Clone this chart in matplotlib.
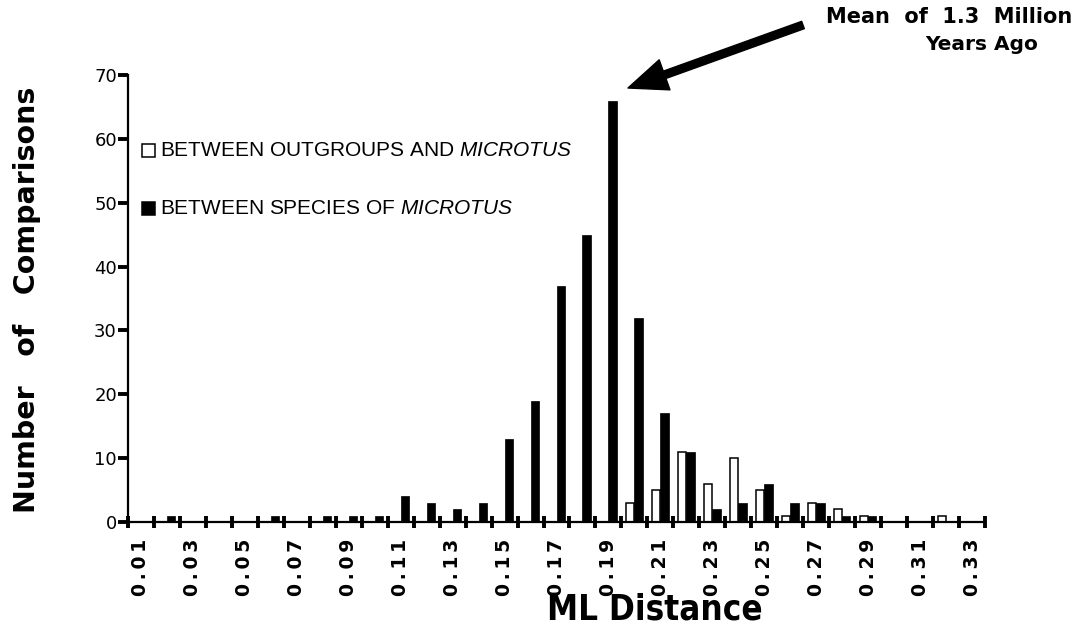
import matplotlib
matplotlib.use('Agg')
import matplotlib.pyplot as plt
from matplotlib import font_manager
from matplotlib.patches import Rectangle

# bin centres (ML distance) and counts
distance = [0.01, 0.02, 0.03, 0.04, 0.05, 0.06, 0.07, 0.08, 0.09, 0.10, 0.11,
            0.12, 0.13, 0.14, 0.15, 0.16, 0.17, 0.18, 0.19, 0.20, 0.21, 0.22,
            0.23, 0.24, 0.25, 0.26, 0.27, 0.28, 0.29, 0.30, 0.31, 0.32, 0.33]
outgroup = [0, 0, 0, 0, 0, 0, 0, 0, 0, 0, 0, 0, 0, 0, 0, 0, 0, 0, 0,
            3, 5, 11, 6, 10, 5, 1, 3, 2, 1, 0, 0, 1, 0]
within = [0, 1, 0, 0, 0, 1, 0, 1, 1, 1, 4, 3, 2, 3, 13, 19, 37, 45, 66,
          32, 17, 11, 2, 3, 6, 3, 3, 1, 1, 0, 0, 0, 0]
labelled = distance[::2]
yticks = [0, 10, 20, 30, 40, 50, 60, 70]

plt.rcParams['mathtext.fontset'] = 'custom'
plt.rcParams['mathtext.rm'] = 'Liberation Sans'
plt.rcParams['mathtext.it'] = 'Liberation Sans:italic'

# a condensed bold face for the x label, if one is installed
fonts = font_manager.fontManager.ttflist
cond = None
for f in fonts:
    if f.name in ('Liberation Sans Narrow', 'Roboto Condensed', 'DejaVu Sans') \
            and f.stretch in ('condensed', 'semi-condensed', 'extra-condensed') \
            or f.name in ('Liberation Sans Narrow', 'Roboto Condensed'):
        cond = f
        break

fig = plt.figure(figsize=(10.81, 6.33), dpi=100)
ax = fig.add_axes([128/1081, 1 - 522/633, 857/1081, 447/633])

w = 0.0032
ax.bar([d - w/2 for d in distance], outgroup, width=w, color='white',
       edgecolor='black', linewidth=1.1)
ax.bar([d + w/2 for d in distance], within, width=w, color='black',
       edgecolor='black', linewidth=0.5)

ax.set_xlim(0.005, 0.335)
ax.set_ylim(0, 70)
for s in ['top', 'right']:
    ax.spines[s].set_visible(False)
for s in ['left', 'bottom']:
    ax.spines[s].set_linewidth(1.6)

# tick marks on the bin edges, labels on every other bin centre
edges = [d - 0.005 for d in distance] + [distance[-1] + 0.005]
ax.set_xticks(edges)
ax.set_xticklabels([])
ax.tick_params(axis='x', which='major', direction='inout', length=9, width=2.8)
ax.set_xticks(labelled, minor=True)
ax.set_xticklabels(['\u2009'.join(f'{v:.2f}') for v in labelled], minor=True,
                   rotation=90, fontsize=13.5, fontweight='bold',
                   family='DejaVu Sans')
ax.tick_params(axis='x', which='minor', length=0, pad=12)

ax.set_yticks(yticks)
ax.set_yticklabels([str(v) for v in yticks], fontsize=13, family='DejaVu Sans')
ax.tick_params(axis='y', direction='out', length=7, width=2.8, pad=1)

# legend
ax.add_patch(Rectangle((0.0165, 0.817), 0.015, 0.029, transform=ax.transAxes,
                       facecolor='white', edgecolor='black', lw=1.1, clip_on=False))
ax.add_patch(Rectangle((0.0165, 0.687), 0.015, 0.029, transform=ax.transAxes,
                       facecolor='black', edgecolor='black', lw=1.1, clip_on=False))
ax.text(0.037, 0.832, r'BETWEEN OUTGROUPS AND $\mathit{MICROTUS}$',
        transform=ax.transAxes, fontsize=15, family='Liberation Sans', va='center')
ax.text(0.037, 0.702, r'BETWEEN SPECIES OF $\mathit{MICROTUS}$',
        transform=ax.transAxes, fontsize=15, family='Liberation Sans', va='center')

fig.text(27/1081, 1 - 300/633, 'Number   of   Comparisons', rotation=90,
         ha='center', va='center', fontsize=20.5, fontweight='bold',
         family='DejaVu Sans')
if cond is not None:
    fig.text(655/1081, 1 - 609/633, 'ML Distance', ha='center', va='center',
             fontproperties=font_manager.FontProperties(
                 family=cond.name, stretch=cond.stretch, weight='bold', size=25))
else:
    fig.text(655/1081, 1 - 609/633, 'ML Distance', ha='center', va='center',
             fontsize=21, fontweight='bold', family='DejaVu Sans')

fig.text(949/1081, 1 - 17/633, 'Mean  of  1.3  Million', ha='center',
         va='center', fontsize=15, fontweight='bold', family='DejaVu Sans')
fig.text(982/1081, 1 - 45/633, 'Years Ago', ha='center', va='center',
         fontsize=14.5, fontweight='bold', family='DejaVu Sans')
ax.annotate('', xy=(628/1081, 1 - 88/633), xycoords='figure fraction',
            xytext=(803/1081, 1 - 25/633), textcoords='figure fraction',
            arrowprops=dict(arrowstyle='simple,head_length=1.4,head_width=1.15,tail_width=0.28',
                            mutation_scale=20, color='black', shrinkA=0, shrinkB=0))

fig.savefig('out.png', dpi=100)
